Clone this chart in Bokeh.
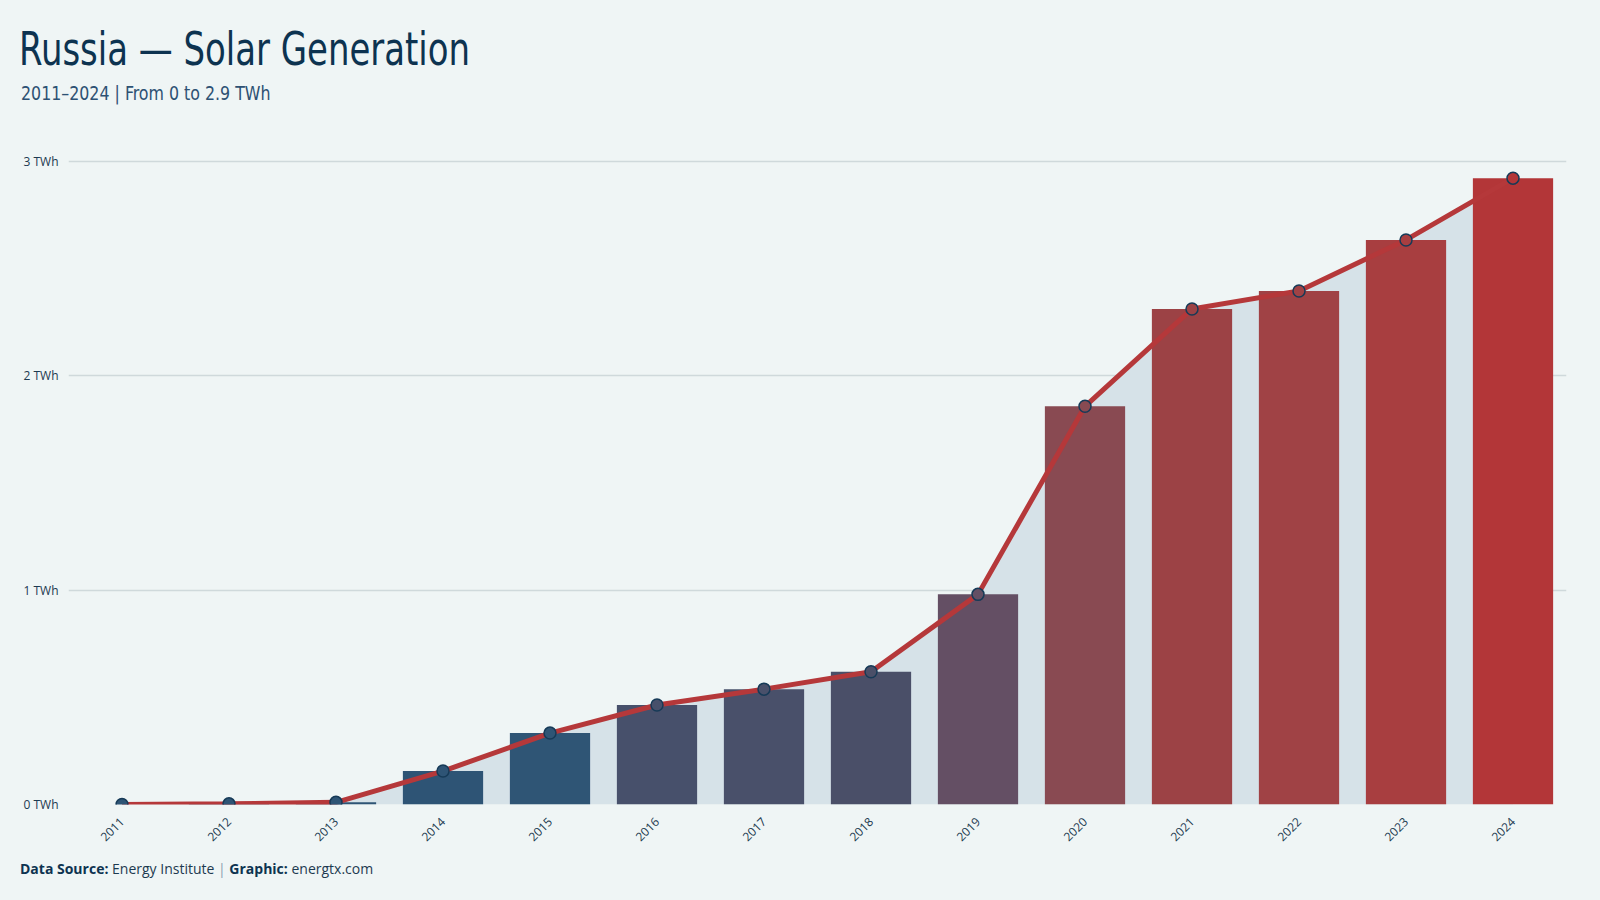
from bokeh.plotting import figure
from bokeh.models import FactorRange, Range1d, Div, FixedTicker, ColumnDataSource
from bokeh.layouts import column
from bokeh.embed import file_html
from bokeh.resources import INLINE

# ---- data ----
years = ["2011", "2012", "2013", "2014", "2015", "2016", "2017",
         "2018", "2019", "2020", "2021", "2022", "2023", "2024"]
generation_twh = [0.0, 0.003, 0.01, 0.156, 0.333, 0.464, 0.538,
                  0.619, 0.98, 1.857, 2.311, 2.395, 2.633, 2.921]
y_ticks = [0, 1, 2, 3]
y_tick_labels = {0: "0 TWh", 1: "1 TWh", 2: "2 TWh", 3: "3 TWh"}

title_text = "Russia \u2014 Solar Generation"
subtitle_text = "2011\u20132024 | From 0 to 2.9 TWh"

# ---- colour ramp (value share -> colour) ----
ramp = [(0.0, "#2e5475"), (0.12, "#2f5575"), (0.16, "#48506b"), (0.21, "#4a4f68"),
        (0.34, "#654f64"), (0.64, "#8a4a52"), (0.79, "#9c4245"), (0.82, "#a04245"),
        (0.90, "#a83e40"), (1.0, "#b33638")]


def hex2rgb(h):
    return tuple(int(h[i:i + 2], 16) for i in (1, 3, 5))


def ramp_colour(t):
    for (t0, c0), (t1, c1) in zip(ramp[:-1], ramp[1:]):
        if t <= t1:
            f = 0 if t1 == t0 else (t - t0) / (t1 - t0)
            a, b = hex2rgb(c0), hex2rgb(c1)
            return "#%02x%02x%02x" % tuple(round(a[i] + (b[i] - a[i]) * f) for i in range(3))
    return ramp[-1][1]


vmax = max(generation_twh)
colours = [ramp_colour(v / vmax) for v in generation_twh]

src = ColumnDataSource(dict(year=years, value=generation_twh, colour=colours))

BG = "#eff5f5"

header = Div(
    text=(
        f'<div style="position:relative;width:1600px;height:130px;">'
        f'<div style="position:absolute;left:19px;top:26px;white-space:nowrap;'
        f'font-family:\'Liberation Sans Narrow\',\'DejaVu Sans Condensed\',sans-serif;'
        f'font-size:46px;line-height:46px;color:#0d3350;transform:scaleX(0.82);transform-origin:left;">{title_text}</div>'
        f'<div style="position:absolute;left:21px;top:82px;white-space:nowrap;'
        f'font-family:\'Liberation Sans Narrow\',\'DejaVu Sans Condensed\',sans-serif;'
        f'font-size:20px;line-height:22px;color:#2d5173;transform:scaleX(0.88);transform-origin:left;">{subtitle_text}</div>'
        f'</div>'
    ),
    width=1600, height=130, margin=0,
    styles={"background-color": BG},
)

p = figure(
    x_range=FactorRange(factors=years),
    y_range=Range1d(0, 3.05),
    width=1600, height=722,
    output_backend="svg", toolbar_location=None,
    min_border_left=68, min_border_right=34, min_border_top=20, min_border_bottom=48,
    background_fill_color=BG, border_fill_color=BG, outline_line_color=None,
    margin=0,
)

p.varea(x="year", y1=0, y2="value", source=src, fill_color="#d6e2e8")
p.vbar(x="year", top="value", width=0.75, source=src, fill_color="colour", line_color=None)
p.line(x="year", y="value", source=src, line_color="#b5383a", line_width=5)
p.scatter(x="year", y="value", source=src, size=12, fill_color="colour",
          line_color="#163a57", line_width=1.5)

p.xgrid.grid_line_color = None
p.ygrid.grid_line_color = "#cfd9db"
p.ygrid.grid_line_width = 1.5
p.yaxis.ticker = FixedTicker(ticks=y_ticks)
p.yaxis.major_label_overrides = y_tick_labels
p.yaxis.axis_line_color = None
p.yaxis.major_tick_line_color = None
p.yaxis.minor_tick_line_color = None
p.yaxis.major_label_standoff = 4
p.yaxis.major_label_text_font = "Open Sans"
p.yaxis.major_label_text_font_size = "12px"
p.yaxis.major_label_text_color = "#1d3a50"

p.xaxis.axis_line_color = None
p.xaxis.major_tick_line_color = None
p.xaxis.minor_tick_line_color = None
p.xaxis.major_label_orientation = 0.785
p.xaxis.major_label_standoff = 9
p.xaxis.major_label_text_font = "Open Sans"
p.xaxis.major_label_text_font_size = "12px"
p.xaxis.major_label_text_color = "#1d3a50"

footer = Div(
    text=(
        '<div style="position:relative;width:1600px;height:48px;">'
        '<div style="position:absolute;left:20px;top:7px;white-space:nowrap;'
        'font-family:\'Open Sans\',sans-serif;font-size:14px;color:#1d3a50;">'
        '<b style="color:#0d3350;">Data Source:</b> Energy Institute '
        '<span style="color:#8aa0b0;">|</span> '
        '<b style="color:#0d3350;">Graphic:</b> energtx.com</div></div>'
    ),
    width=1600, height=48, margin=0,
    styles={"background-color": BG},
)

layout = column(header, p, footer, spacing=0, margin=0,
                styles={"background-color": BG})

open("out.html", "w").write(file_html(layout, INLINE))
